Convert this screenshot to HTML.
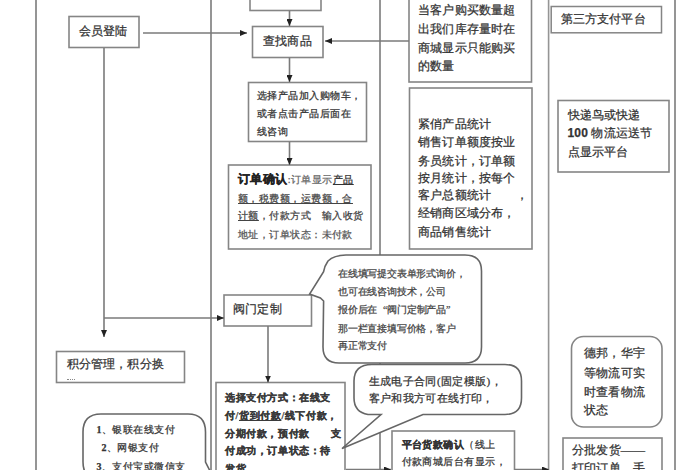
<!DOCTYPE html>
<html><head><meta charset="utf-8">
<style>
html,body{margin:0;padding:0;background:#fff;}
body{width:700px;height:470px;overflow:hidden;position:relative;font-family:"Liberation Serif",serif;color:#333;}
svg{position:absolute;left:0;top:0;}
.t{position:absolute;white-space:nowrap;line-height:18px;height:18px;-webkit-text-stroke:0.25px currentColor;}
.s12{font-size:12px;letter-spacing:0.2px;}
.s10{font-size:10px;letter-spacing:0.45px;}
.s10b{font-size:10px;letter-spacing:0.6px;font-weight:bold;color:#3a3a3a;}
.bb{font-size:10px;letter-spacing:-0.2px;color:#444;}
.s11{font-size:11px;letter-spacing:0.4px;}
.b{font-weight:bold;}
u{text-decoration:underline;}
.q{display:inline-block;width:10px;}
</style></head><body>
<svg width="700" height="470" viewBox="0 0 700 470">
<defs>
<marker id="ah" markerWidth="7" markerHeight="6" refX="7" refY="3" orient="auto" markerUnits="userSpaceOnUse">
<path d="M0,0 L7,3 L0,6 Z" fill="#222"/>
</marker>
</defs>
<g stroke="#959595" stroke-width="2" fill="none">
<!-- lane lines -->
<line x1="36" y1="0" x2="36" y2="470"/>
<line x1="211" y1="0" x2="211" y2="470"/>
<line x1="380" y1="0" x2="380" y2="470"/>
<line x1="548.6" y1="0" x2="548.6" y2="470" stroke-width="1.6"/>
<line x1="675" y1="0" x2="675" y2="470"/>
</g>
<g stroke="#858585" stroke-width="1.6" fill="#fff">
<!-- boxes -->
<rect x="250" y="-20" width="71" height="30.5"/>
<rect x="69" y="16.5" width="70" height="31"/>
<rect x="252.5" y="26.5" width="70.5" height="31"/>
<rect x="409" y="-20" width="122.5" height="102"/>
<rect x="551.2" y="6.5" width="110.3" height="26.3" stroke-width="1.5"/>
<rect x="248.5" y="82.5" width="118" height="59"/>
<rect x="409.5" y="88" width="122.5" height="161"/>
<rect x="558" y="100.5" width="111" height="71.5"/>
<rect x="228.5" y="165" width="142.5" height="84"/>
<rect x="224" y="295" width="87.5" height="31"/>
<rect x="56.5" y="351.5" width="128" height="31"/>
<rect x="216" y="382.5" width="129" height="100"/>
<rect x="392" y="431" width="122.5" height="60"/>
<rect x="563" y="438" width="99" height="60"/>
<rect x="571.5" y="336.5" width="90.5" height="90.5" rx="12" ry="12"/>
</g>
<g stroke="#7a7a7a" stroke-width="1.6" fill="none">
<!-- connectors -->
<line x1="143" y1="33" x2="247" y2="33" marker-end="url(#ah)"/>
<line x1="409" y1="41" x2="325" y2="41" marker-end="url(#ah)"/>
<line x1="289.5" y1="10.5" x2="289.5" y2="26" marker-end="url(#ah)"/>
<line x1="289.5" y1="57.5" x2="289.5" y2="82" marker-end="url(#ah)"/>
<line x1="289.5" y1="141.5" x2="289.5" y2="165" marker-end="url(#ah)"/>
<polyline points="104,48 104,337" marker-end="url(#ah)"/>
<line x1="104" y1="318" x2="224" y2="318" marker-end="url(#ah)"/>
<line x1="268" y1="326" x2="268" y2="382.5" marker-end="url(#ah)"/>
<line x1="346" y1="469.5" x2="391" y2="469.5" marker-end="url(#ah)"/>
<line x1="514.5" y1="469.5" x2="549" y2="469.5" marker-end="url(#ah)"/>
</g>
<g stroke="#666" stroke-width="1.6" fill="#fff">
<!-- bubble 1 -->
<path d="M346,255 L465,255 Q481.5,255 481.5,271 L481.5,347 Q481.5,363 465,363 L339,363 Q323,363 323,347 L323.6,301 L320.4,298 L309.6,294 L323.6,271.7 Q324.5,266 328,261 Q334,255.2 346,255 Z"/>
<!-- bubble 2 -->
<path d="M372,364.5 L505,364.5 Q521.5,364.5 521.5,381 L521.5,398 Q521.5,414.5 505,414.5 L423,414.5 L342,448.5 L381,414.5 L368,414.5 Q354,412 354,398 L354,381 Q354,364.5 372,364.5 Z"/>
<!-- bubble yinlian -->
<path d="M101,414 L188,414 Q205.5,414 205.5,432 L205.5,462 L212,475 L101,480 Q83,480 83,462 L83,432 Q83,414 101,414 Z"/>
</g>
</svg>

<div class="t s12" style="left:418px;top:1px">当客户购买数量超</div>
<div class="t s12" style="left:418px;top:20px">出我们库存量时在</div>
<div class="t s12" style="left:418px;top:39px">商城显示只能购买</div>
<div class="t s12" style="left:418px;top:57px">的数量</div>

<div class="t s12" style="left:560.5px;top:10px">第三方支付平台</div>
<div class="t s12" style="left:78.5px;top:22px">会员登陆</div>
<div class="t s12" style="left:263px;top:32px">查找商品</div>

<div class="t s10" style="left:257px;top:87px">选择产品加入购物车，</div>
<div class="t s10" style="left:257px;top:105px">或者点击产品后面在</div>
<div class="t s10" style="left:257px;top:123px">线咨询</div>

<div class="t s12" style="left:418px;top:115px">紧俏产品统计</div>
<div class="t s12" style="left:418px;top:133px">销售订单额度按业</div>
<div class="t s12" style="left:418px;top:152px">务员统计，订单额</div>
<div class="t s12" style="left:418px;top:169px">按月统计，按每个</div>
<div class="t s12" style="left:418px;top:186px">客户总额统计　　，</div>
<div class="t s12" style="left:418px;top:204px">经销商区域分布，</div>
<div class="t s12" style="left:418px;top:223px">商品销售统计</div>

<div class="t s12" style="left:567.5px;top:106px">快递鸟或快递</div>
<div class="t s12" style="left:567.5px;top:124px"><b style="font-family:'Liberation Sans',sans-serif">100</b> 物流运送节</div>
<div class="t s12" style="left:567.5px;top:143px">点显示平台</div>

<div class="t s10" style="left:238px;top:170px"><span class="b" style="font-size:12px;color:#222">订单确认</span><span style="color:#666">:订单显示</span><u>产品</u></div>
<div class="t s10" style="left:238px;top:190px;color:#444"><u>额，税费额，运费额，合</u></div>
<div class="t s10" style="left:238px;top:207px;color:#444"><u>计额</u>，付款方式　输入收货</div>
<div class="t s10" style="left:238px;top:226px;color:#555">地址，订单状态：未付款</div>

<div class="t s12" style="left:233px;top:300px">阀门定制</div>

<div class="t bb" style="left:338px;top:265px">在线填写提交表单形式询价，</div>
<div class="t bb" style="left:338px;top:283px">也可在线咨询技术，公司</div>
<div class="t bb" style="left:338px;top:301px">报价后在<span class="q" style="text-align:right">“</span>阀门定制产品<span class="q">”</span></div>
<div class="t bb" style="left:338px;top:320px">那一栏直接填写价格，客户</div>
<div class="t bb" style="left:338px;top:337px">再正常支付</div>

<div class="t s12" style="left:66.5px;top:355px">积分管理，积分换</div>
<div style="position:absolute;left:67px;top:379px;width:8px;height:1px;border-top:1px dotted #888"></div>

<div class="t s12" style="left:584px;top:344px">德邦，华宇</div>
<div class="t s12" style="left:584px;top:364px">等物流可实</div>
<div class="t s12" style="left:584px;top:383px">时查看物流</div>
<div class="t s12" style="left:584px;top:401px">状态</div>

<div class="t s11" style="left:368.5px;top:372px">生成电子合同(固定模版)，</div>
<div class="t s11" style="left:368.5px;top:389px">客户和我方可在线打印，</div>

<div class="t s10b" style="left:225px;top:389px">选择支付方式：在线支</div>
<div class="t s10b" style="left:225px;top:407px">付/<u>货到付款</u>/线下付款，</div>
<div class="t s10b" style="left:225px;top:425px">分期付款，预付款　　支</div>
<div class="t s10b" style="left:225px;top:442px">付成功，订单状态：待</div>
<div class="t s10b" style="left:225px;top:460px">发货</div>

<div class="t s10" style="left:401.5px;top:436px"><span class="b">平台货款确认</span>（线上</div>
<div class="t s10" style="left:401.5px;top:453px">付款商城后台有显示，</div>

<div class="t s12" style="left:572px;top:441px">分批发货——</div>
<div class="t s12" style="left:572px;top:459px">打印订单，手</div>

<div class="t s10" style="left:96.5px;top:421px"><b>1</b>、银联在线支付</div>
<div class="t s10" style="left:101.5px;top:439px"><b>2</b>、网银支付</div>
<div class="t s10" style="left:96.5px;top:458px"><b>3</b>、支付宝或微信支</div>
</body></html>
